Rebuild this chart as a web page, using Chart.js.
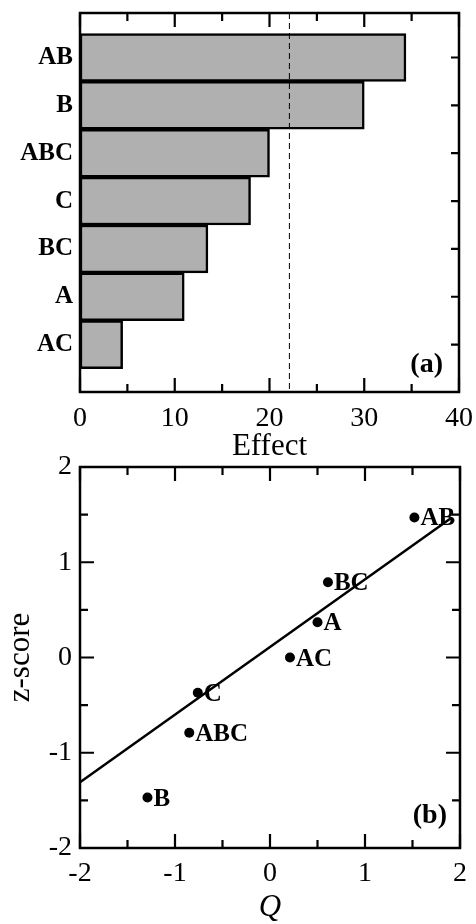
<!DOCTYPE html>
<html>
<head>
<meta charset="utf-8">
<script src="https://cdn.jsdelivr.net/npm/chart.js@4.4.1/dist/chart.umd.min.js"></script>
<style>
  html, body { margin: 0; padding: 0; background: #fff; width: 476px; height: 924px; overflow: hidden; }
  .box { position: absolute; left: 0; width: 476px; }
  #b1 { top: 0; height: 470px; }
  #b2 { top: 440px; height: 490px; }
</style>
</head>
<body>
<div class="box" id="b1"><canvas id="c1"></canvas></div>
<div class="box" id="b2"><canvas id="c2"></canvas></div>
<script>
// ---- Data: panel (a) ----
const categories = ['AB', 'B', 'ABC', 'C', 'BC', 'A', 'AC'];
const effects = [34.4, 30.0, 20.0, 18.0, 13.5, 11.0, 4.5];
const effectLimit = 22.1;
const effectTicks = [0, 10, 20, 30, 40];

// ---- Data: panel (b) ----
const pointLabels = ['AB', 'BC', 'A', 'AC', 'C', 'ABC', 'B'];
const qValues = [1.52, 0.61, 0.50, 0.21, -0.76, -0.85, -1.29];
const zScores = [1.47, 0.79, 0.37, 0.00, -0.37, -0.79, -1.47];
const fitQ = [-2, 1.9];
const fitZ = [-1.31, 1.46];
const axisTicksB = [-2, -1, 0, 1, 2];

const SERIF = "'Liberation Serif', 'Times New Roman', serif";
Chart.defaults.font.family = SERIF;
Chart.defaults.color = '#000';

function zeroPad(s) { s.paddingTop = 0; s.paddingBottom = 0; s.paddingLeft = 0; s.paddingRight = 0; }

function frameTicks(ctx, area, xs, xScale, xMajor, ys, yScale, yMajor, sides) {
  ctx.save();
  ctx.strokeStyle = '#000';
  ctx.lineWidth = 2.5;
  ctx.strokeRect(area.left, area.top, area.right - area.left, area.bottom - area.top);
  ctx.lineWidth = 2.2;
  ctx.beginPath();
  xs.forEach(v => {
    const px = xScale.getPixelForValue(v);
    const len = xMajor(v) ? 14 : 8;
    if (sides.top) { ctx.moveTo(px, area.top); ctx.lineTo(px, area.top + len); }
    if (sides.bottom) { ctx.moveTo(px, area.bottom); ctx.lineTo(px, area.bottom - len); }
  });
  ys.forEach(v => {
    const py = yScale.getPixelForValue(v);
    const len = yMajor(v) ? 14 : 8;
    if (sides.left) { ctx.moveTo(area.left, py); ctx.lineTo(area.left + len, py); }
    if (sides.right) { ctx.moveTo(area.right, py); ctx.lineTo(area.right - len, py); }
  });
  ctx.stroke();
  ctx.restore();
}

// ---------- Chart (a) ----------
const framePluginA = {
  id: 'frameA',
  afterDatasetsDraw(chart) {
    const {ctx, chartArea: a, scales} = chart;
    const xs = [];
    for (let v = 0; v <= 40; v += 5) xs.push(v);
    const ys = categories.map((_, i) => i);
    frameTicks(ctx, a, xs, scales.x, v => v % 10 === 0, ys, scales.y, () => false,
      {top: true, bottom: true, right: true, left: false});
    ctx.save();
    ctx.font = 'bold 28px ' + SERIF;
    ctx.fillStyle = '#000';
    ctx.textAlign = 'right';
    ctx.textBaseline = 'alphabetic';
    ctx.fillText('(a)', a.right - 16, a.bottom - 20);
    ctx.restore();
  }
};

new Chart(document.getElementById('c1'), {
  type: 'bar',
  data: {
    datasets: [
      {
        type: 'line',
        data: [{x: effectLimit, y: -0.93}, {x: effectLimit, y: 6.99}],
        borderColor: '#000',
        borderWidth: 1,
        borderDash: [6, 4],
        pointRadius: 0,
        indexAxis: 'y',
        order: 0
      },
      {
        type: 'bar',
        data: categories.map((c, i) => ({x: effects[i], y: i})),
        backgroundColor: '#b0b0b0',
        borderColor: '#000',
        borderWidth: 2.5,
        borderSkipped: false,
        barPercentage: 1,
        categoryPercentage: 1,
        order: 1
      }
    ]
  },
  options: {
    indexAxis: 'y',
    responsive: true,
    maintainAspectRatio: false,
    animation: false,
    layout: { padding: { top: 13, right: 17, left: 0, bottom: 0 } },
    plugins: { legend: { display: false }, tooltip: { enabled: false } },
    scales: {
      x: {
        type: 'linear',
        position: 'bottom',
        min: 0, max: 40,
        offset: false,
        afterBuildTicks: s => { s.ticks = effectTicks.map(v => ({value: v})); },
        grid: { display: false, drawTicks: false },
        border: { display: false },
        ticks: { font: { size: 28 }, padding: 10, maxRotation: 0 },
        title: { display: true, text: 'Effect', font: { size: 31 }, padding: { top: 0, bottom: 5 } },
        afterFit: s => { s.height = 78; zeroPad(s); }
      },
      y: {
        type: 'linear',
        position: 'left',
        reverse: true,
        offset: false,
        min: -0.93, max: 6.99,
        afterBuildTicks: s => { s.ticks = categories.map((_, i) => ({value: i})); },
        grid: { display: false, drawTicks: false },
        border: { display: false },
        ticks: {
          font: { size: 25, weight: 'bold' },
          padding: 7,
          callback: v => categories[v] !== undefined ? categories[v] : ''
        },
        afterFit: s => { s.width = 80; zeroPad(s); }
      }
    }
  },
  plugins: [framePluginA]
});

// ---------- Chart (b) ----------
const framePluginB = {
  id: 'frameB',
  afterDatasetsDraw(chart) {
    const {ctx, chartArea: a, scales} = chart;
    const vals = [];
    for (let v = -2; v <= 2.001; v += 0.5) vals.push(Math.round(v * 10) / 10);
    const major = v => Number.isInteger(v);
    frameTicks(ctx, a, vals, scales.x, major, vals, scales.y, major,
      {top: true, bottom: true, right: true, left: true});
    // point labels
    const meta = chart.getDatasetMeta(1);
    ctx.save();
    ctx.font = 'bold 25px ' + SERIF;
    ctx.fillStyle = '#000';
    ctx.textAlign = 'left';
    ctx.textBaseline = 'alphabetic';
    meta.data.forEach((el, i) => {
      ctx.fillText(pointLabels[i], el.x + 6, el.y + 8);
    });
    ctx.font = 'bold 28px ' + SERIF;
    ctx.textAlign = 'right';
    ctx.fillText('(b)', a.right - 13, a.bottom - 25);
    ctx.restore();
  }
};

new Chart(document.getElementById('c2'), {
  type: 'scatter',
  data: {
    datasets: [
      {
        type: 'line',
        data: fitQ.map((q, i) => ({x: q, y: fitZ[i]})),
        borderColor: '#000',
        borderWidth: 2.5,
        pointRadius: 0,
        fill: false,
        order: 1
      },
      {
        type: 'scatter',
        data: qValues.map((q, i) => ({x: q, y: zScores[i]})),
        backgroundColor: '#000',
        borderColor: '#000',
        pointRadius: 5,
        pointBorderWidth: 0,
        order: 0
      }
    ]
  },
  options: {
    responsive: true,
    maintainAspectRatio: false,
    animation: false,
    layout: { padding: { top: 27, right: 16, left: 0, bottom: 0 } },
    plugins: { legend: { display: false }, tooltip: { enabled: false } },
    scales: {
      x: {
        type: 'linear',
        position: 'bottom',
        min: -2, max: 2,
        afterBuildTicks: s => { s.ticks = axisTicksB.map(v => ({value: v})); },
        grid: { display: false, drawTicks: false },
        border: { display: false },
        ticks: { font: { size: 28 }, padding: 9, maxRotation: 0 },
        title: { display: true, text: 'Q', font: { size: 31, style: 'italic' }, padding: { top: 0, bottom: 4 } },
        afterFit: s => { s.height = 82; zeroPad(s); }
      },
      y: {
        type: 'linear',
        position: 'left',
        min: -2, max: 2,
        afterBuildTicks: s => { s.ticks = axisTicksB.map(v => ({value: v})); },
        grid: { display: false, drawTicks: false },
        border: { display: false },
        ticks: { font: { size: 28 }, padding: 8 },
        title: { display: true, text: 'z-score', font: { size: 31 }, padding: { top: 2, bottom: 0 } },
        afterFit: s => { s.width = 80; zeroPad(s); }
      }
    }
  },
  plugins: [framePluginB]
});
</script>
</body>
</html>
